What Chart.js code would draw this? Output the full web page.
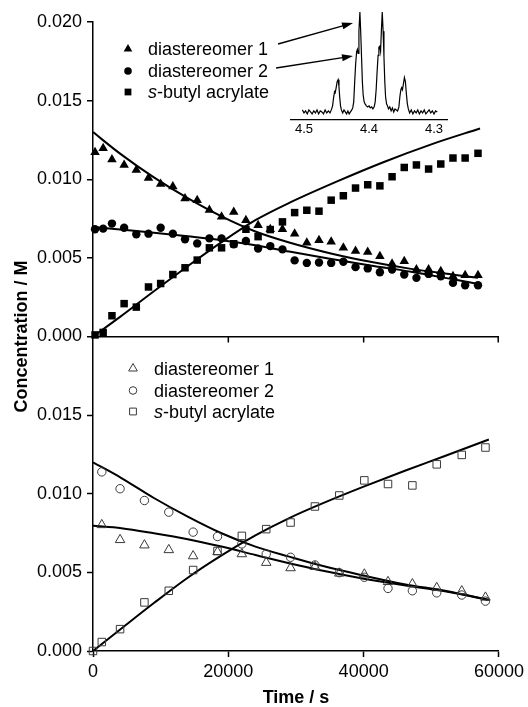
<!DOCTYPE html>
<html>
<head>
<meta charset="utf-8">
<script src="https://cdn.jsdelivr.net/npm/chart.js@4.4.1/dist/chart.umd.min.js"></script>
<style>
body { margin: 0; background: #fff; }
#wrap { position: relative; width: 528px; height: 707px; }
#main { position: absolute; left: 0; top: 0; }
#inset { position: absolute; left: 285px; top: 0; pointer-events: none; }
</style>
</head>
<body>
<div id="wrap">
<canvas id="main" width="528" height="707"></canvas>
<canvas id="inset" width="175" height="140"></canvas>
</div>
<script>
// ---- data ----
// upper panel: filled symbols
var topTime = [300, 1500, 2800, 4600, 6400, 8200, 10000, 11800, 13600, 15400, 17200,
  19000, 20800, 22600, 24400, 26200, 28000, 29800, 31600, 33400, 35200, 37000,
  38800, 40600, 42400, 44200, 46000, 47800, 49600, 51400, 53200, 55000, 56900];
var topDia1 = [0.01171, 0.01197, 0.01125, 0.01091, 0.01059, 0.01008, 0.00969, 0.00954, 0.00877, 0.00867, 0.00805,
  0.00762, 0.00792, 0.00739, 0.00707, 0.00682, 0.00682, 0.00654, 0.00596, 0.00612, 0.00603, 0.00564,
  0.00543, 0.00537, 0.00511, 0.00462, 0.00479, 0.00426, 0.00426, 0.00415, 0.00383, 0.00390, 0.00390];
var topDia2 = [0.00682, 0.00686, 0.00718, 0.00692, 0.00650, 0.00654, 0.00692, 0.00654, 0.00618, 0.00592, 0.00624,
  0.00624, 0.00586, 0.00607, 0.00560, 0.00575, 0.00554, 0.00484, 0.00468, 0.00471, 0.00468, 0.00475,
  0.00441, 0.00433, 0.00409, 0.00426, 0.00394, 0.00373, 0.00398, 0.00383, 0.00341, 0.00326, 0.00326];
var topAcrylate = [0.00010, 0.00026, 0.00132, 0.00209, 0.00187, 0.00315, 0.00337, 0.00394, 0.00437, 0.00486, 0.00564,
  0.00564, 0.00590, 0.00682, 0.00635, 0.00680, 0.00729, 0.00788, 0.00803, 0.00797, 0.00867, 0.00895,
  0.00944, 0.00965, 0.00958, 0.01016, 0.01075, 0.01091, 0.01065, 0.01097, 0.01135, 0.01135, 0.01165];

// upper panel: fitted curves
var topFitTime = [0, 4000, 9000, 14000, 19000, 24000, 29000, 35000, 41000, 47000, 53000, 56900];
var topFitDia1 = [0.01300, 0.01163, 0.01012, 0.00880, 0.00764, 0.00668, 0.00598, 0.00530, 0.00475, 0.00430, 0.00395, 0.00373];
var topFitDia2 = [0.00696, 0.00680, 0.00660, 0.00637, 0.00612, 0.00580, 0.00540, 0.00495, 0.00452, 0.00412, 0.00365, 0.00334];
var topFitTimeAcr = [0, 4000, 9000, 14000, 19000, 24000, 29000, 36000, 43000, 50000, 57200];
var topFitAcrylate = [0, 0.00125, 0.00288, 0.00447, 0.00600, 0.00740, 0.00850, 0.00985, 0.01110, 0.01222, 0.01323];

// lower panel: open symbols
var botTime = [0, 1300, 4000, 7600, 11200, 14800, 18400, 22000, 25600, 29200,
  32800, 36400, 40100, 43600, 47200, 50800, 54500, 58000];
var botDia1 = [null, 0.00802, 0.00707, 0.00673, 0.00643, 0.00604, 0.00630, 0.00617, 0.00562, 0.00528,
  0.00536, 0.00494, 0.00488, 0.00440, 0.00426, 0.00402, 0.00381, 0.00341];
var botDia2 = [null, 0.01139, 0.01032, 0.00957, 0.00883, 0.00756, 0.00728, 0.00681, 0.00617, 0.00596,
  0.00547, 0.00498, 0.00469, 0.00398, 0.00383, 0.00370, 0.00356, 0.00317];
var botAcrylate = [0, 0.00057, 0.00139, 0.00309, 0.00383, 0.00515, 0.00636, 0.00732, 0.00775, 0.00817,
  0.00919, 0.00989, 0.01085, 0.01062, 0.01053, 0.01187, 0.01247, 0.01294];

// lower panel: fitted curves
var botFitTime = [0, 4200, 9000, 14000, 19000, 24000, 29000, 34000, 40000, 46000, 52000, 58500];
var botFitDia1 = [0.00796, 0.00781, 0.00749, 0.00711, 0.00664, 0.00611, 0.00558, 0.00510, 0.00460, 0.00418, 0.00380, 0.00325];
var botFitDia2 = [0.01200, 0.01100, 0.00973, 0.00855, 0.00749, 0.00664, 0.00600, 0.00540, 0.00480, 0.00425, 0.00383, 0.00325];
var botFitAcrylate = [0, 0.00143, 0.00305, 0.00466, 0.00608, 0.00735, 0.00845, 0.00940, 0.01045, 0.01145, 0.01240, 0.01345];

// inset 1H NMR trace (ppm, relative intensity)
var specPpm = [4.5025, 4.5000, 4.4975, 4.4950, 4.4925, 4.4900, 4.4875, 4.4850, 4.4825, 4.4800,
  4.4775, 4.4750, 4.4725, 4.4700, 4.4675, 4.4650, 4.4625, 4.4600, 4.4580,
  4.4560, 4.4545, 4.4530, 4.4520, 4.4505, 4.4490, 4.4475, 4.4462, 4.4450, 4.4438, 4.4425,
  4.4405, 4.4385, 4.4365, 4.4345, 4.4325, 4.4305, 4.4285, 4.4265, 4.4250,
  4.4235, 4.4220, 4.4205, 4.4190, 4.4178, 4.4168, 4.4155, 4.4140, 4.4128, 4.4115, 4.4102,
  4.4090, 4.4075, 4.4060, 4.4040, 4.4020, 4.4000, 4.3980, 4.3960, 4.3940, 4.3920, 4.3905,
  4.3890, 4.3875, 4.3860, 4.3848, 4.3835, 4.3822, 4.3810, 4.3796, 4.3783, 4.3770, 4.3757,
  4.3745, 4.3730, 4.3715, 4.3700, 4.3680, 4.3660, 4.3640, 4.3620, 4.3600, 4.3580, 4.3560, 4.3540,
  4.3525, 4.3510, 4.3497, 4.3485, 4.3470, 4.3455, 4.3440, 4.3425, 4.3410, 4.3395,
  4.3375, 4.3350, 4.3325, 4.3300, 4.3275, 4.3250, 4.3225, 4.3200, 4.3175, 4.3150,
  4.3125, 4.3100, 4.3075, 4.3050, 4.3025, 4.3000, 4.2975, 4.2950];
var specInt = [0.02, -0.01, 0.01, -0.02, 0.02, 0.00, -0.02, 0.01, -0.01, 0.02,
  -0.02, 0.01, 0.00, -0.02, 0.02, -0.01, 0.01, -0.01, 0.02,
  0.06, 0.14, 0.20, 0.19, 0.24, 0.30, 0.32, 0.25, 0.14, 0.06, 0.02,
  -0.01, 0.02, 0.00, -0.02, 0.01, -0.02, 0.00, 0.02, 0.04,
  0.10, 0.30, 0.48, 0.60, 0.62, 0.58, 0.80, 0.99, 0.80, 0.55, 0.30,
  0.17, 0.10, 0.08, 0.06, 0.05, 0.06, 0.04, 0.05, 0.03, 0.05, 0.10,
  0.22, 0.40, 0.56, 0.64, 0.65, 0.60, 0.80, 0.99, 0.80, 0.55, 0.30,
  0.15, 0.08, 0.06, 0.03, 0.05, 0.01, 0.04, 0.00, 0.03, 0.02, 0.01, 0.05,
  0.15, 0.22, 0.24, 0.22, 0.28, 0.34, 0.30, 0.18, 0.08, 0.03,
  -0.01, 0.02, -0.02, 0.01, -0.01, 0.02, -0.02, 0.01, -0.01, 0.02,
  -0.02, 0.00, 0.02, -0.01, 0.01, -0.02, 0.01, 0.00];

var timeTicks = [0, 20000, 40000, 60000];
var concTicks = [0, 0.005, 0.010, 0.015, 0.020];
var ppmTicks = [4.5, 4.4, 4.3];
var seriesNames = ['diastereomer 1', 'diastereomer 2', 's-butyl acrylate'];

var FONT = '"Liberation Sans", Arial, Helvetica, sans-serif';
Chart.defaults.font.family = FONT;
Chart.defaults.font.size = 18;
Chart.defaults.color = '#000';

function pts(xs, ys) {
  var out = [];
  for (var i = 0; i < xs.length; i++) {
    if (ys[i] !== null) out.push({x: xs[i], y: ys[i]});
  }
  return out;
}

function marks(data, axis, style, r, filled) {
  return {
    data: data, yAxisID: axis, showLine: false, clip: false,
    pointStyle: style, pointRadius: r, pointHoverRadius: r,
    backgroundColor: filled ? '#000' : 'rgba(0,0,0,0)',
    borderColor: filled ? '#000' : '#3a3a3a',
    borderWidth: filled ? 0 : 1
  };
}

function fit(data, axis) {
  return {
    data: data, yAxisID: axis, showLine: true, pointRadius: 0,
    borderColor: '#000', borderWidth: 2, cubicInterpolationMode: 'monotone'
  };
}

// small marker like the chart's own point styles
function marker(ctx, style, x, y, r, filled) {
  ctx.save();
  ctx.beginPath();
  if (style === 'triangle') {
    for (var k = 0; k < 3; k++) {
      var a = k * 2 * Math.PI / 3;
      var px = x + Math.sin(a) * r, py = y - Math.cos(a) * r;
      if (k === 0) ctx.moveTo(px, py); else ctx.lineTo(px, py);
    }
    ctx.closePath();
  } else if (style === 'circle') {
    ctx.arc(x, y, r, 0, 2 * Math.PI);
  } else {
    var s = r * Math.SQRT1_2;
    ctx.rect(x - s, y - s, 2 * s, 2 * s);
  }
  if (filled) { ctx.fillStyle = '#000'; ctx.fill(); }
  else { ctx.strokeStyle = '#3a3a3a'; ctx.lineWidth = 1; ctx.stroke(); }
  ctx.restore();
}

function arrow(ctx, x0, y0, x1, y1) {
  var ang = Math.atan2(y1 - y0, x1 - x0);
  var len = 11, hw = 3.5;
  ctx.save();
  ctx.strokeStyle = '#000';
  ctx.fillStyle = '#000';
  ctx.lineWidth = 1.3;
  ctx.beginPath();
  ctx.moveTo(x0, y0);
  ctx.lineTo(x1 - Math.cos(ang) * len * 0.8, y1 - Math.sin(ang) * len * 0.8);
  ctx.stroke();
  ctx.beginPath();
  ctx.moveTo(x1, y1);
  ctx.lineTo(x1 - Math.cos(ang) * len - Math.sin(ang) * hw, y1 - Math.sin(ang) * len + Math.cos(ang) * hw);
  ctx.lineTo(x1 - Math.cos(ang) * len + Math.sin(ang) * hw, y1 - Math.sin(ang) * len - Math.cos(ang) * hw);
  ctx.closePath();
  ctx.fill();
  ctx.restore();
}

function legendBlock(ctx, mx, tx, baselines, filled) {
  var styles = ['triangle', 'circle', 'rect'];
  var radii = [5, 3.8, 4.8];
  var ends = [];
  ctx.save();
  ctx.textBaseline = 'alphabetic';
  ctx.textAlign = 'left';
  ctx.fillStyle = '#000';
  for (var i = 0; i < seriesNames.length; i++) {
    marker(ctx, styles[i], mx, baselines[i] - 6, radii[i], filled);
    var name = seriesNames[i];
    var x = tx;
    if (name.indexOf('s-') === 0) {
      ctx.font = 'italic 18px ' + FONT;
      ctx.fillText('s', x, baselines[i]);
      x += ctx.measureText('s').width;
      name = name.slice(1);
    }
    ctx.font = '18px ' + FONT;
    ctx.fillText(name, x, baselines[i]);
    ends.push(x + ctx.measureText(name).width);
  }
  ctx.restore();
  return ends;
}

var extras = {
  id: 'extras',
  afterDraw: function(chart) {
    var ctx = chart.ctx;
    var area = chart.chartArea;
    var sepY = chart.scales.yB.top;
    var xs = chart.scales.x;

    // inward ticks on the panel divider
    ctx.save();
    ctx.strokeStyle = '#000';
    ctx.lineWidth = 1.5;
    timeTicks.forEach(function(v) {
      if (v === 0) return;
      var px = Math.min(xs.getPixelForValue(v), area.right - 0.75);
      ctx.beginPath();
      ctx.moveTo(px, sepY);
      ctx.lineTo(px, sepY + 6);
      ctx.stroke();
    });
    ctx.restore();

    // shared y axis title
    ctx.save();
    ctx.translate(22, (area.top + area.bottom) / 2);
    ctx.rotate(-Math.PI / 2);
    ctx.font = 'bold 18px ' + FONT;
    ctx.textAlign = 'center';
    ctx.textBaseline = 'middle';
    ctx.fillStyle = '#000';
    ctx.fillText('Concentration / M', 0, 0);
    ctx.restore();

    // legends
    var ends = legendBlock(ctx, area.left + 35, area.left + 55,
      [area.top + 33, area.top + 55, area.top + 76], true);
    legendBlock(ctx, area.left + 40, area.left + 61,
      [sepY + 38, sepY + 60, sepY + 81], false);

    // arrows to the inset peaks
    arrow(ctx, ends[0] + 10, area.top + 22, area.left + 260, area.top + 1);
    arrow(ctx, ends[1] + 8, area.top + 46, area.left + 260, area.top + 34);
  }
};

new Chart(document.getElementById('main'), {
  type: 'scatter',
  data: {
    datasets: [
      marks(pts(topTime, topDia1), 'yT', 'triangle', 5.5, true),
      marks(pts(topTime, topDia2), 'yT', 'circle', 4.2, true),
      marks(pts(topTime, topAcrylate), 'yT', 'rect', 5.3, true),
      fit(pts(topFitTime, topFitDia1), 'yT'),
      fit(pts(topFitTime, topFitDia2), 'yT'),
      fit(pts(topFitTimeAcr, topFitAcrylate), 'yT'),
      marks(pts(botTime, botDia1), 'yB', 'triangle', 5.5, false),
      marks(pts(botTime, botDia2), 'yB', 'circle', 4.2, false),
      marks(pts(botTime, botAcrylate), 'yB', 'rect', 5.3, false),
      fit(pts(botFitTime, botFitDia1), 'yB'),
      fit(pts(botFitTime, botFitDia2), 'yB'),
      fit(pts(botFitTime, botFitAcrylate), 'yB')
    ]
  },
  options: {
    responsive: false,
    animation: false,
    devicePixelRatio: 1,
    layout: { padding: { top: 22, right: 27, left: 0, bottom: 0 } },
    plugins: { legend: { display: false }, tooltip: { enabled: false } },
    scales: {
      x: {
        type: 'linear', position: 'bottom', min: 0, max: 60000,
        afterBuildTicks: function(s) { s.ticks = timeTicks.map(function(v) { return {value: v}; }); },
        afterFit: function(s) { s.height = 56; },
        ticks: { callback: function(v) { return String(v); }, padding: 4, maxRotation: 0, autoSkip: false },
        grid: { drawOnChartArea: false, tickLength: 6, tickWidth: 1.5, tickColor: '#000' },
        border: { color: '#000', width: 1.5 },
        title: { display: true, text: 'Time / s', font: { size: 18, weight: 'bold', lineHeight: 1 }, padding: { top: 0, bottom: 0 } }
      },
      yB: {
        type: 'linear', position: 'left', stack: 'conc', stackWeight: 1, min: 0, max: 0.02,
        afterBuildTicks: function(s) { s.ticks = concTicks.map(function(v) { return {value: v}; }); },
        afterFit: function(s) { s.width = 93; },
        ticks: { callback: function(v) { return v > 0.0199 ? '' : v.toFixed(3); }, padding: 5 },
        grid: {
          drawOnChartArea: false, tickLength: 6, tickWidth: 1.5,
          tickColor: function(c) { return c.tick && c.tick.value > 0.0199 ? 'rgba(0,0,0,0)' : '#000'; }
        },
        border: { color: '#000', width: 1.5 }
      },
      yT: {
        type: 'linear', position: 'left', stack: 'conc', stackWeight: 1, min: 0, max: 0.02,
        afterBuildTicks: function(s) { s.ticks = concTicks.map(function(v) { return {value: v}; }); },
        afterFit: function(s) { s.width = 93; },
        ticks: { callback: function(v) { return v.toFixed(3); }, padding: 5 },
        grid: {
          drawOnChartArea: true, tickLength: 6, tickWidth: 1.5, tickColor: '#000', lineWidth: 1.5,
          color: function(c) { return c.tick && c.tick.value === 0 ? '#000' : 'rgba(0,0,0,0)'; }
        },
        border: { color: '#000', width: 1.5 }
      }
    }
  },
  plugins: [extras]
});

new Chart(document.getElementById('inset'), {
  type: 'scatter',
  data: {
    datasets: [{
      data: pts(specPpm, specInt), showLine: true, pointRadius: 0,
      borderColor: '#000', borderWidth: 1.2, tension: 0
    }]
  },
  options: {
    responsive: false,
    animation: false,
    devicePixelRatio: 1,
    layout: { padding: { left: 6, right: 13, top: 11, bottom: 0 } },
    plugins: { legend: { display: false }, tooltip: { enabled: false } },
    scales: {
      x: {
        type: 'linear', reverse: true, min: 4.28, max: 4.52,
        afterBuildTicks: function(s) { s.ticks = ppmTicks.map(function(v) { return {value: v}; }); },
        afterFit: function(s) { s.height = 20; },
        ticks: { callback: function(v) { return v.toFixed(1); }, font: { size: 13 }, padding: 2, maxRotation: 0, autoSkip: false },
        grid: { drawOnChartArea: false, drawTicks: false },
        border: { color: '#000', width: 1.2 }
      },
      y: { display: false, min: -0.08, max: 1.0 }
    }
  }
});
</script>
</body>
</html>
